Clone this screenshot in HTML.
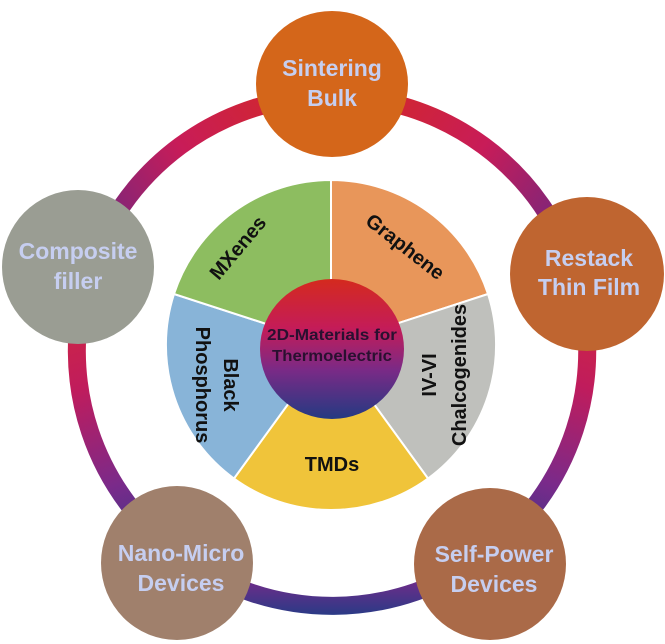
<!DOCTYPE html>
<html><head><meta charset="utf-8"><style>
html,body{margin:0;padding:0;background:#fff;}
svg{display:block;}
text{font-family:"Liberation Sans",Arial,sans-serif;font-weight:bold;}
</style></head><body>
<svg width="665" height="644" viewBox="0 0 665 644" xmlns="http://www.w3.org/2000/svg">
<defs>
<linearGradient id="gA" gradientUnits="userSpaceOnUse" x1="332" y1="96" x2="576" y2="276">
<stop offset="0" stop-color="#d42a20"/><stop offset="0.5" stop-color="#c81c58"/><stop offset="1" stop-color="#5a2a8a"/></linearGradient>
<linearGradient id="gB" gradientUnits="userSpaceOnUse" x1="332" y1="96" x2="88" y2="276">
<stop offset="0" stop-color="#d42a20"/><stop offset="0.5" stop-color="#c81c58"/><stop offset="1" stop-color="#5a2a8a"/></linearGradient>
<linearGradient id="gC" gradientUnits="userSpaceOnUse" x1="576" y1="276" x2="485" y2="555">
<stop offset="0" stop-color="#d42a3a"/><stop offset="0.35" stop-color="#c01c5c"/><stop offset="0.7" stop-color="#7a2a8a"/><stop offset="1" stop-color="#2a3a86"/></linearGradient>
<linearGradient id="gD" gradientUnits="userSpaceOnUse" x1="88" y1="276" x2="182" y2="557">
<stop offset="0" stop-color="#d42a3a"/><stop offset="0.35" stop-color="#c01c5c"/><stop offset="0.7" stop-color="#7a2a8a"/><stop offset="1" stop-color="#2a3a86"/></linearGradient>
<linearGradient id="gE" gradientUnits="userSpaceOnUse" x1="0" y1="575" x2="0" y2="615">
<stop offset="0" stop-color="#7a2a8a"/><stop offset="1" stop-color="#2a3a86"/></linearGradient>
<linearGradient id="gM" x1="0" y1="0" x2="0" y2="1">
<stop offset="0" stop-color="#d42a1e"/><stop offset="0.35" stop-color="#c41c58"/><stop offset="0.65" stop-color="#7a2a86"/><stop offset="1" stop-color="#243a82"/></linearGradient>
</defs>
<g fill="none" stroke-width="18">
<path d="M332,96 A255,255 0 0 1 576,276" stroke="url(#gA)"/>
<path d="M332,96 A255,255 0 0 0 88,276" stroke="url(#gB)"/>
<path d="M576,276 A255,255 0 0 1 485,555" stroke="url(#gC)"/>
<path d="M88,276 A255,255 0 0 0 182,557" stroke="url(#gD)"/>
<path d="M485,555 A255,255 0 0 1 182,557" stroke="url(#gE)"/>
</g>
<g stroke="#fff" stroke-width="2">
<path d="M331,345 L331,180 A165,165 0 0 1 488,294 Z" fill="#e8965a"/>
<path d="M331,345 L488,294 A165,165 0 0 1 428,478.5 Z" fill="#bfc0bc"/>
<path d="M331,345 L428,478.5 A165,165 0 0 1 234,478.5 Z" fill="#f0c43a"/>
<path d="M331,345 L234,478.5 A165,165 0 0 1 174,294 Z" fill="#88b4d8"/>
<path d="M331,345 L174,294 A165,165 0 0 1 331,180 Z" fill="#8dbd60"/>
</g>
<ellipse cx="332" cy="349" rx="72" ry="70" fill="url(#gM)"/>
<g fill="#111" font-size="20" text-anchor="middle">
<text transform="translate(243,252) rotate(-50)">MXenes</text>
<text transform="translate(401,252) rotate(38)">Graphene</text>
<text transform="translate(436,375) rotate(-90)"><tspan x="0" y="0">IV-VI</tspan><tspan x="0" y="30">Chalcogenides</tspan></text>
<text transform="translate(224,385) rotate(90)"><tspan x="0" y="0">Black</tspan><tspan x="0" y="28">Phosphorus</tspan></text>
<text x="332" y="471">TMDs</text>
</g>
<g fill="#2a1030" font-size="16" text-anchor="middle">
<text x="332" y="340" textLength="130" lengthAdjust="spacingAndGlyphs">2D-Materials for</text>
<text x="332" y="361" textLength="120" lengthAdjust="spacingAndGlyphs">Thermoelectric</text>
</g>
<ellipse cx="332" cy="84" rx="76" ry="73" fill="#d4661a"/>
<ellipse cx="587" cy="274" rx="77" ry="77" fill="#bf6530"/>
<ellipse cx="78" cy="267" rx="76" ry="77" fill="#9a9d93"/>
<ellipse cx="177" cy="563" rx="76" ry="77" fill="#a0806c"/>
<ellipse cx="490" cy="564" rx="76" ry="76" fill="#aa6a48"/>
<g fill="#c6cef0" font-size="23" text-anchor="middle">
<text x="332" y="76">Sintering</text><text x="332" y="106">Bulk</text>
<text x="589" y="266">Restack</text><text x="589" y="295">Thin Film</text>
<text x="78" y="259">Composite</text><text x="78" y="289">filler</text>
<text x="181" y="561">Nano-Micro</text><text x="181" y="591">Devices</text>
<text x="494" y="562">Self-Power</text><text x="494" y="592">Devices</text>
</g>
</svg>
</body></html>
